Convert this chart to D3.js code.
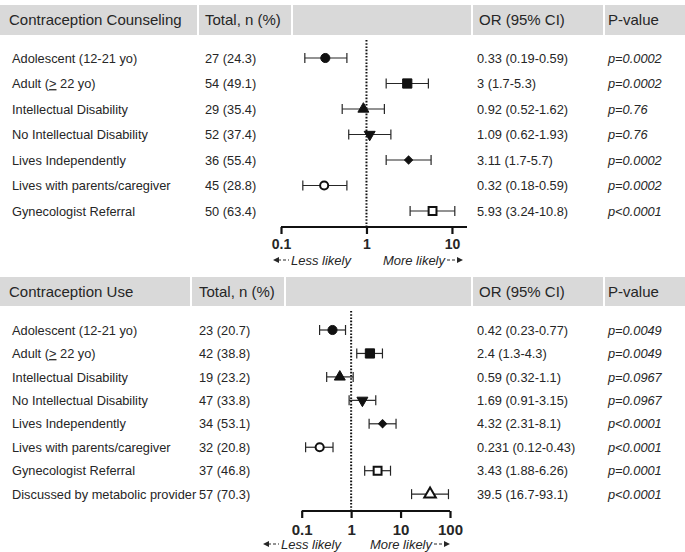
<!DOCTYPE html>
<html><head><meta charset="utf-8">
<script src="https://cdn.jsdelivr.net/npm/d3@7"></script>
<style>body{margin:0;background:#fff}svg{display:block}text{font-family:"Liberation Sans",Arial,sans-serif;fill:#262626}</style>
</head><body><svg id="c" width="685" height="552"></svg>
<script>
// ---- data ----
const counselingTitle = "Contraception Counseling";
const counselingLabels = ["Adolescent (12-21 yo)","Adult (≥ 22 yo)","Intellectual Disability","No Intellectual Disability","Lives Independently","Lives with parents/caregiver","Gynecologist Referral"];
const counselingN = [27,54,29,52,36,45,50];
const counselingPct = [24.3,49.1,35.4,37.4,55.4,28.8,63.4];
const counselingOR = [0.33,3,0.92,1.09,3.11,0.32,5.93];
const counselingLo = [0.19,1.7,0.52,0.62,1.7,0.18,3.24];
const counselingHi = [0.59,5.3,1.62,1.93,5.7,0.59,10.8];
const counselingP = ["p=0.0002","p=0.0002","p=0.76","p=0.76","p=0.0002","p=0.0002","p<0.0001"];
const counselingShapes = ["circle","square","triUp","triDown","diamond","openCircle","openSquare"];
const counselingTicks = [0.1,1,10];

const useTitle = "Contraception Use";
const useLabels = ["Adolescent (12-21 yo)","Adult (≥ 22 yo)","Intellectual Disability","No Intellectual Disability","Lives Independently","Lives with parents/caregiver","Gynecologist Referral","Discussed by metabolic provider"];
const useN = [23,42,19,47,34,32,37,57];
const usePct = [20.7,38.8,23.2,33.8,53.1,20.8,46.8,70.3];
const useOR = [0.42,2.4,0.59,1.69,4.32,0.231,3.43,39.5];
const useLo = [0.23,1.3,0.32,0.91,2.31,0.12,1.88,16.7];
const useHi = [0.77,4.3,1.1,3.15,8.1,0.43,6.26,93.1];
const useP = ["p=0.0049","p=0.0049","p=0.0967","p=0.0967","p<0.0001","p<0.0001","p=0.0001","p<0.0001"];
const useShapes = ["circle","square","triUp","triDown","diamond","openCircle","openSquare","openTriUp"];
const useTicks = [0.1,1,10,100];

const headers = ["Total, n (%)","","OR (95% CI)","P-value"];
const lessText = "Less likely", moreText = "More likely";

// ---- layout ----
const svg = d3.select("#c");
const ink = "#262626";
const symbolSizes = {circle:65, square:85, triUp:52, triDown:52, diamond:32, openCircle:52, openSquare:62, openTriUp:58};

function panel(cfg, title, labels, ns, pcts, ors, los, his, ps, shapes, ticks){
  const g = svg.append("g");
  cfg.boxes.forEach(b=>{
    g.append("rect").attr("x",b[0]).attr("y",cfg.hy0).attr("width",b[1]-b[0]).attr("height",cfg.hy1-cfg.hy0).attr("fill","#d9d9d9");
  });
  const hy = (cfg.hy0+cfg.hy1)/2;
  const htexts = [title].concat(headers);
  const hx = [9, cfg.totX, 0, 479, 608];
  htexts.forEach((t,i)=>{ if(t) g.append("text").attr("x",hx[i]).attr("y",hy).attr("dy","0.36em").attr("font-size",15).text(t); });

  const x = d3.scaleLog().domain(cfg.domain).range(cfg.range);
  const y = i => cfg.row0 + i*cfg.step;
  const fs = 12.8;

  labels.forEach((lab,i)=>{
    const t = g.append("text").attr("x",12).attr("y",y(i)).attr("dy","0.36em").attr("font-size",fs);
    if(lab.includes("≥")){
      const parts = lab.split("≥");
      t.append("tspan").text(parts[0]);
      t.append("tspan").attr("text-decoration","underline").text(">");
      t.append("tspan").text(parts[1]);
    } else t.text(lab);
    g.append("text").attr("x",cfg.totX).attr("y",y(i)).attr("dy","0.36em").attr("font-size",fs).text(ns[i]+" ("+pcts[i]+")");
    g.append("text").attr("x",477).attr("y",y(i)).attr("dy","0.36em").attr("font-size",fs).text(ors[i]+" ("+los[i]+"-"+his[i]+")");
    g.append("text").attr("x",608).attr("y",y(i)).attr("dy","0.36em").attr("font-size",fs).attr("font-style","italic").text(ps[i]);
  });

  g.append("line").attr("x1",x(1)).attr("x2",x(1)).attr("y1",cfg.refY0).attr("y2",cfg.axisY)
    .attr("stroke","#111").attr("stroke-width",2).attr("stroke-dasharray","1.6,1.6");

  labels.forEach((lab,i)=>{
    const yy=y(i);
    g.append("line").attr("x1",x(los[i])).attr("x2",x(his[i])).attr("y1",yy).attr("y2",yy).attr("stroke",ink).attr("stroke-width",1.2);
    [los[i],his[i]].forEach(v=>g.append("line").attr("x1",x(v)).attr("x2",x(v)).attr("y1",yy-cfg.cap).attr("y2",yy+cfg.cap).attr("stroke",ink).attr("stroke-width",1.2));
    const s = shapes[i];
    const open = s.startsWith("open");
    let type = d3.symbolCircle, rot = 0;
    if(/quare/.test(s)) type=d3.symbolSquare;
    if(/riUp/.test(s)) type=d3.symbolTriangle;
    if(s==="triDown") { type=d3.symbolTriangle; rot=180; }
    if(s==="diamond") { type=d3.symbolSquare; rot=45; }
    g.append("path").attr("d",d3.symbol().type(type).size(symbolSizes[s])())
      .attr("transform",`translate(${x(ors[i])},${yy}) rotate(${rot})`)
      .attr("fill",open?"#fff":"#111").attr("stroke","#111").attr("stroke-width",open?2:1);
  });

  const ax = g.append("g").attr("transform",`translate(0,${cfg.axisY})`)
    .call(d3.axisBottom(x).tickValues(ticks).tickFormat(d=>String(d)).tickSize(7).tickSizeOuter(0));
  ax.select(".domain").attr("stroke","#111").attr("stroke-width",2.2).attr("d",`M${cfg.range[0]},0H${cfg.range[1]}`);
  ax.selectAll(".tick line").attr("stroke","#111").attr("stroke-width",2.2);
  ax.selectAll(".tick text").attr("font-size",cfg.tickFont).attr("font-weight","bold").attr("fill","#111")
    .attr("font-family","Liberation Sans, Arial, sans-serif").attr("y",cfg.tickDy).attr("dy","0.36em");

  const ly = cfg.axisY + cfg.likeDy;
  const lx0 = cfg.lessX0, mx1 = cfg.moreX1;
  g.append("path").attr("d",`M${lx0},${ly} l6,-3 v6 z`).attr("fill",ink);
  g.append("line").attr("x1",lx0+5).attr("x2",lx0+16).attr("y1",ly).attr("y2",ly).attr("stroke",ink).attr("stroke-dasharray","3,2");
  g.append("text").attr("x",lx0+18).attr("y",ly).attr("dy","0.36em").attr("font-size",13).attr("font-style","italic").text(lessText);
  g.append("path").attr("d",`M${mx1},${ly} l-6,-3 v6 z`).attr("fill",ink);
  g.append("line").attr("x1",mx1-16).attr("x2",mx1-5).attr("y1",ly).attr("y2",ly).attr("stroke",ink).attr("stroke-dasharray","3,2");
  g.append("text").attr("x",mx1-18).attr("y",ly).attr("dy","0.36em").attr("font-size",13).attr("font-style","italic").attr("text-anchor","end").text(moreText);
}

panel({hy0:5,hy1:35,boxes:[[0,197],[199,291],[293,471],[473,603],[605,685]],totX:205,
  domain:[0.1,15],range:[281,467],row0:58,step:25.5,axisY:227,refY0:40,cap:5,
  tickFont:14,tickDy:17,likeDy:33,lessX0:273,moreX1:463},
  counselingTitle,counselingLabels,counselingN,counselingPct,counselingOR,counselingLo,counselingHi,counselingP,counselingShapes,counselingTicks);

panel({hy0:277,hy1:306,boxes:[[0,190],[192,284],[286,471],[473,603],[605,685]],totX:199,
  domain:[0.1,100],range:[301.7,450],row0:330,step:23.45,axisY:511,refY0:311,cap:5,
  tickFont:15,tickDy:19,likeDy:33,lessX0:263,moreX1:450},
  useTitle,useLabels,useN,usePct,useOR,useLo,useHi,useP,useShapes,useTicks);
</script></body></html>
